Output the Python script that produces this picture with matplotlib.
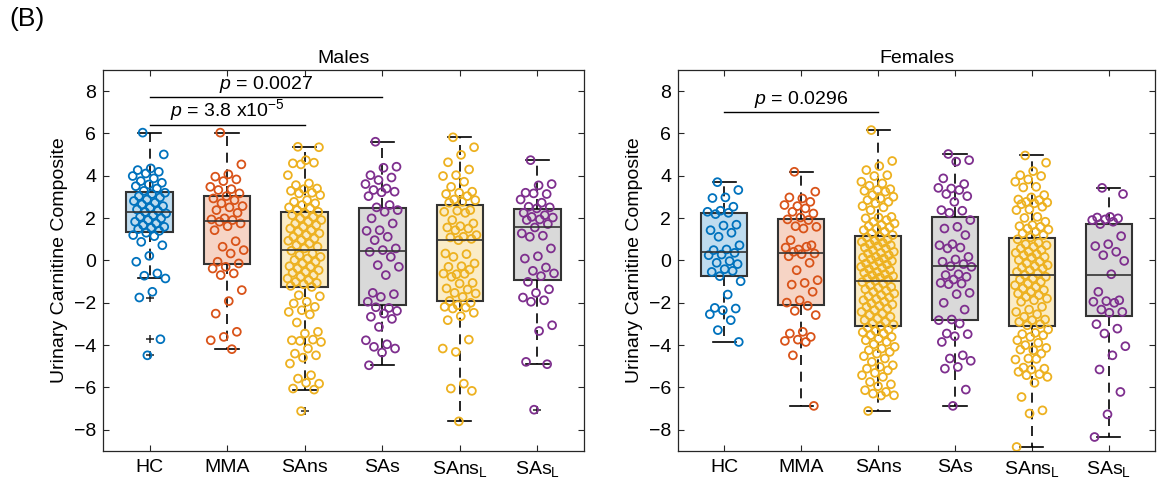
"""Urinary carnitine composite by group, males vs females (panel B)."""

import matplotlib

matplotlib.use("Agg")
import matplotlib.pyplot as plt
import numpy as np

plt.rcParams["font.family"] = ["Liberation Sans", "DejaVu Sans"]
plt.rcParams["mathtext.fontset"] = "custom"
plt.rcParams["mathtext.rm"] = "Liberation Sans"
plt.rcParams["mathtext.it"] = "Liberation Sans:italic"

groups = ["HC", "MMA", "SAns", "SAs", r"SAns$_\mathrm{L}$", r"SAs$_\mathrm{L}$"]
edge_colors = ["#0072BD", "#D95319", "#EDB120", "#7E2F8E", "#EDB120", "#7E2F8E"]
face_colors = ["#BFDCEF", "#F6D4C5", "#FAECC7", "#D9D9D9", "#FAECC7", "#D9D9D9"]

# box statistics
male_whishi = [6.03, 6.03, 5.37, 5.61, 5.82, 4.74]
male_q3 = [3.24, 3.04, 2.27, 2.49, 2.60, 2.43]
male_med = [2.27, 1.87, 0.49, 0.43, 0.99, 1.56]
male_q1 = [1.35, -0.17, -1.25, -2.08, -1.91, -0.93]
male_whislo = [-0.85, -4.19, -6.10, -4.95, -7.60, -4.89]
male_fliers = [[-1.75, -3.72, -4.48], [], [-7.12], [], [], [-7.05]]

female_whishi = [3.70, 4.19, 6.16, 5.03, 4.96, 3.43]
female_q3 = [2.22, 1.94, 1.15, 2.05, 1.07, 1.72]
female_med = [0.39, 0.36, -0.96, -0.27, -0.68, -0.68]
female_q1 = [-0.71, -2.08, -3.11, -2.82, -3.11, -2.62]
female_whislo = [-3.85, -6.87, -7.11, -6.87, -8.81, -8.34]
female_fliers = [[], [], [], [], [], []]

# individual subjects
male_hc = [6.04, 5.01, 4.35, 4.27, 4.19, 4.11, 3.99, 3.88, 3.75, 3.67, 3.59, 3.51, 3.40,
           3.29, 3.20, 3.14, 3.04, 2.98, 2.88, 2.81, 2.73, 2.65, 2.57, 2.49, 2.41, 2.35,
           2.29, 2.22, 2.14, 2.06, 1.99, 1.91, 1.83, 1.75, 1.67, 1.59, 1.54, 1.48, 1.40,
           1.31, 1.20, 1.15, 0.88, 0.72, 0.22, -0.06, -0.61, -0.72, -0.85, -1.48, -1.75,
           -3.72, -4.48]
male_mma = [6.04, 4.54, 4.07, 3.96, 3.83, 3.75, 3.48, 3.37, 3.33, 3.17, 3.04, 2.93, 2.85,
            2.70, 2.57, 2.51, 2.38, 2.25, 1.99, 1.94, 1.91, 1.83, 1.75, 1.62, 1.43, 0.91,
            0.65, 0.49, 0.33, -0.06, -0.14, -0.30, -0.38, -0.61, -0.69, -1.40, -1.92,
            -2.51, -3.37, -3.61, -3.77, -4.19]
male_sans = [5.37, 5.35, 4.74, 4.59, 4.62, 4.54, 4.03, 3.64, 3.56, 3.40, 3.37, 3.29, 3.20,
             3.17, 3.09, 2.85, 2.77, 2.70, 2.62, 2.51, 2.46, 2.38, 2.30, 2.22, 2.14, 2.06,
             1.99, 1.91, 1.83, 1.75, 1.67, 1.59, 1.51, 1.43, 1.36, 1.28, 1.20, 1.12, 1.04,
             0.96, 0.93, 0.80, 0.72, 0.65, 0.57, 0.46, 0.33, 0.25, 0.17, 0.09, 0.02, -0.06,
             -0.14, -0.27, -0.30, -0.38, -0.46, -0.54, -0.58, -0.69, -0.77, -0.85, -0.93,
             -1.01, -1.06, -1.12, -1.20, -1.25, -1.64, -1.69, -1.95, -2.03, -2.19, -2.35,
             -2.43, -2.55, -2.93, -3.37, -3.45, -3.77, -3.74, -3.80, -3.85, -4.16, -4.40,
             -4.48, -4.59, -4.87, -5.42, -5.58, -5.82, -5.78, -6.05, -6.10, -7.12]
male_sas = [5.61, 4.43, 4.38, 4.03, 3.92, 3.80, 3.61, 3.40, 3.33, 3.25, 3.22, 3.04, 2.62,
            2.51, 2.38, 2.30, 1.99, 1.75, 1.43, 1.40, 1.12, 0.96, 0.57, 0.49, 0.41, 0.17,
            -0.22, -0.30, -0.69, -1.53, -1.59, -1.72, -1.95, -2.24, -2.21, -2.38, -2.51,
            -2.66, -2.76, -3.14, -3.77, -3.96, -4.08, -4.16, -4.35, -4.95]
male_sans_l = [5.82, 5.35, 4.99, 4.64, 4.30, 4.03, 3.99, 3.72, 3.48, 3.25, 3.20, 3.14, 3.04,
               2.88, 2.85, 2.77, 2.73, 2.38, 2.35, 2.30, 2.25, 1.91, 1.75, 1.62, 1.56, 1.51,
               1.43, 1.20, 1.12, 1.09, 1.02, 0.96, 0.33, 0.30, 0.17, -0.14, -0.27, -0.30,
               -0.43, -0.65, -0.62, -0.63, -0.77, -1.06, -1.09, -1.32, -1.37, -1.53, -1.56,
               -1.72, -1.91, -2.00, -2.11, -2.19, -2.22, -2.27, -2.47, -2.63, -2.82, -3.74,
               -4.32, -4.16, -5.82, -6.05, -6.16, -7.60]
male_sas_l = [4.74, 3.61, 3.55, 3.20, 3.14, 3.17, 2.88, 2.73, 2.54, 2.51, 2.46, 2.25, 2.14,
              2.06, 2.03, 1.94, 1.91, 1.72, 1.56, 1.28, 1.17, 1.12, 0.57, 0.20, 0.09, -0.33,
              -0.49, -0.61, -0.74, -1.01, -1.36, -1.53, -1.75, -1.88, -1.95, -3.06, -3.33,
              -4.79, -4.90, -7.05]

female_hc = [3.70, 3.33, 2.98, 2.95, 2.54, 2.35, 2.30, 2.25, 2.19, 1.69, 1.65, 1.43, 1.31,
             1.12, 0.72, 0.52, 0.49, 0.36, 0.28, 0.25, -0.03, -0.11, -0.17, -0.41, -0.54,
             -0.49, -0.74, -0.98, -1.61, -2.24, -2.27, -2.35, -2.54, -2.82, -3.29, -3.85]
female_mma = [4.19, 3.25, 2.93, 2.98, 2.77, 2.57, 2.62, 2.46, 2.30, 2.22, 2.03, 1.94, 1.91,
              1.62, 1.59, 1.51, 0.96, 0.72, 0.52, 0.61, 0.65, 0.41, 0.33, 0.30, 0.20, -0.11,
              -0.46, -0.93, -1.06, -1.14, -1.48, -1.88, -1.99, -2.14, -2.38, -2.58, -3.37,
              -3.45, -3.61, -3.74, -3.80, -3.85, -4.48, -6.87]
female_sans = [6.16, 4.70, 4.46, 4.27, 4.03, 3.99, 3.72, 3.64, 3.53, 3.37, 3.33, 3.29, 3.25,
               3.09, 3.01, 2.93, 2.85, 2.77, 2.70, 2.57, 2.51, 2.38, 2.06, 2.03, 1.99, 1.91,
               1.83, 1.75, 1.67, 1.62, 1.56, 1.51, 1.43, 1.36, 1.28, 1.20, 1.12, 1.09, 1.00,
               0.93, 0.88, 0.84, 0.77, 0.72, 0.68, 0.61, 0.57, 0.49, 0.41, 0.36, 0.33, 0.25,
               0.17, 0.14, 0.09, 0.05, -0.02, -0.06, -0.14, -0.19, -0.25, -0.30, -0.35, -0.41,
               -0.46, -0.54, -0.58, -0.65, -0.69, -0.74, -0.80, -0.85, -0.90, -0.96, -1.02,
               -1.09, -1.17, -1.25, -1.29, -1.36, -1.43, -1.48, -1.56, -1.64, -1.69, -1.75,
               -1.83, -1.88, -1.95, -2.03, -2.08, -2.14, -2.19, -2.27, -2.35, -2.43, -2.51,
               -2.58, -2.66, -2.74, -2.82, -2.90, -2.98, -3.03, -3.11, -3.17, -3.26, -3.33,
               -3.39, -3.45, -3.53, -3.61, -3.69, -3.77, -3.85, -3.96, -4.08, -4.16, -4.24,
               -4.32, -4.40, -4.52, -4.63, -4.79, -4.95, -5.03, -5.11, -5.19, -5.31, -5.42,
               -5.50, -5.74, -5.85, -5.94, -6.13, -6.21, -6.29, -6.37, -6.38, -7.11]
female_sas = [5.03, 4.74, 4.67, 3.88, 3.61, 3.40, 3.43, 3.33, 3.14, 3.04, 2.77, 2.38, 2.35,
              2.25, 1.91, 1.59, 1.51, 1.20, 0.77, 0.72, 0.61, 0.57, 0.17, 0.05, -0.06, -0.17,
              -0.27, -0.30, -0.65, -0.69, -0.77, -0.90, -1.06, -1.09, -1.12, -1.53, -1.59,
              -2.00, -2.32, -2.79, -2.82, -2.98, -3.45, -3.48, -3.58, -3.85, -4.48, -4.63,
              -4.74, -5.03, -5.11, -6.10, -6.87]
female_sans_l = [4.96, 4.62, 4.22, 4.03, 3.99, 3.83, 3.72, 3.48, 3.45, 3.09, 2.98, 2.88, 2.85,
                 2.77, 2.74, 2.70, 2.66, 2.54, 2.41, 2.38, 2.06, 2.01, 1.83, 1.67, 1.62, 1.59,
                 1.51, 1.46, 1.36, 1.28, 1.20, 1.09, 1.00, 0.84, 0.77, 0.72, 0.65, 0.57, 0.49,
                 0.41, 0.36, 0.30, 0.25, 0.17, 0.14, 0.02, -0.06, -0.14, -0.22, -0.27, -0.33,
                 -0.38, -0.46, -0.54, -0.61, -0.69, -0.77, -0.85, -0.90, -1.01, -1.09, -1.17,
                 -1.25, -1.32, -1.40, -1.48, -1.56, -1.64, -1.72, -1.80, -1.88, -1.95, -2.19,
                 -2.32, -2.43, -2.54, -2.66, -2.79, -2.82, -2.90, -3.01, -3.06, -3.26, -3.42,
                 -3.48, -3.53, -3.61, -3.77, -3.89, -4.00, -4.13, -4.24, -4.21, -4.40, -4.63,
                 -4.68, -4.65, -5.06, -5.11, -5.15, -5.26, -5.37, -5.42, -5.50, -5.78, -6.45,
                 -7.08, -7.23, -8.81]
female_sas_l = [3.43, 3.14, 2.06, 2.03, 1.99, 1.94, 1.91, 1.83, 1.72, 1.15, 0.77, 0.68, 0.41,
                0.25, -0.02, -0.65, -1.48, -1.88, -1.92, -1.95, -2.00, -2.32, -2.43, -2.47,
                -3.01, -3.22, -3.45, -4.05, -4.48, -5.15, -6.21, -7.27, -8.34]

male_points = [male_hc, male_mma, male_sans, male_sas, male_sans_l, male_sas_l]
female_points = [female_hc, female_mma, female_sans, female_sas, female_sans_l, female_sas_l]

# significance brackets: (group from, group to, height, label)
male_pvals = [(1, 4, 7.74, r"$\it{p}$ = 0.0027"),
              (1, 3, 6.41, r"$\it{p}$ = 3.8 x10$^{\mathregular{-5}}$")]
female_pvals = [(1, 3, 7.01, r"$\it{p}$ = 0.0296")]

FS = 14


def draw_panel(ax, title, whishi, q3, med, q1, whislo, fliers, points, pvals):
    stats = []
    for i in range(len(groups)):
        stats.append({"whishi": whishi[i], "q3": q3[i], "med": med[i], "q1": q1[i],
                      "whislo": whislo[i], "fliers": fliers[i]})
    pos = np.arange(1, len(groups) + 1)
    parts = ax.bxp(stats, positions=pos, widths=0.6, capwidths=0.3, patch_artist=True,
                   showfliers=True,
                   boxprops=dict(edgecolor="#333333", linewidth=1.5),
                   medianprops=dict(color="#333333", linewidth=1.2),
                   whiskerprops=dict(color="black", linewidth=1.2, linestyle=(0, (6, 4))),
                   capprops=dict(color="black", linewidth=1.2),
                   flierprops=dict(marker="+", markeredgecolor="#222222", markersize=6,
                                   markeredgewidth=1.1))
    for patch, fc in zip(parts["boxes"], face_colors):
        patch.set_facecolor(fc)
        patch.set_zorder(1)
    for line in parts["medians"]:
        line.set_zorder(4)

    # jitter the subjects around each group centre
    for i, vals in enumerate(points):
        vals = np.asarray(vals)
        offs = ((np.arange(len(vals)) * 0.6180339887 + 0.3) % 1.0 - 0.5) * 0.44
        ax.scatter(pos[i] + offs, vals, s=32, facecolors="none",
                   edgecolors=edge_colors[i], linewidths=1.3, zorder=3)

    for g0, g1, h, label in pvals:
        ax.plot([g0, g1], [h, h], color="black", linewidth=1.0, zorder=5)
        ax.text((g0 + g1) / 2, h + 0.1, label, ha="center", va="bottom", fontsize=FS)

    ax.set_xlim(0.4, 6.6)
    ax.set_ylim(-9, 9)
    ax.set_yticks(np.arange(-8, 9, 2))
    ax.set_xticks(pos)
    ax.set_xticklabels(groups)
    ax.tick_params(direction="in", top=True, right=True, length=4, labelsize=FS,
                   color="#262626", width=0.8)
    ax.tick_params(axis="x", pad=6)
    ax.tick_params(axis="y", pad=5)
    for sp in ax.spines.values():
        sp.set_color("#262626")
        sp.set_linewidth(0.9)
    ax.set_title(title, fontsize=FS, pad=5)
    ax.set_ylabel("Urinary Carnitine Composite", fontsize=FS, labelpad=4)


fig = plt.figure(figsize=(11.57, 4.79), dpi=100)
ax_m = fig.add_axes([0.0890, 0.0585, 0.4157, 0.7954])
ax_f = fig.add_axes([0.5860, 0.0585, 0.4123, 0.7954])

draw_panel(ax_m, "Males", male_whishi, male_q3, male_med, male_q1, male_whislo,
           male_fliers, male_points, male_pvals)
draw_panel(ax_f, "Females", female_whishi, female_q3, female_med, female_q1, female_whislo,
           female_fliers, female_points, female_pvals)

fig.text(0.008, 0.985, "(B)", fontsize=19, ha="left", va="top")

fig.savefig("out.png", dpi=100)
plt.close(fig)
